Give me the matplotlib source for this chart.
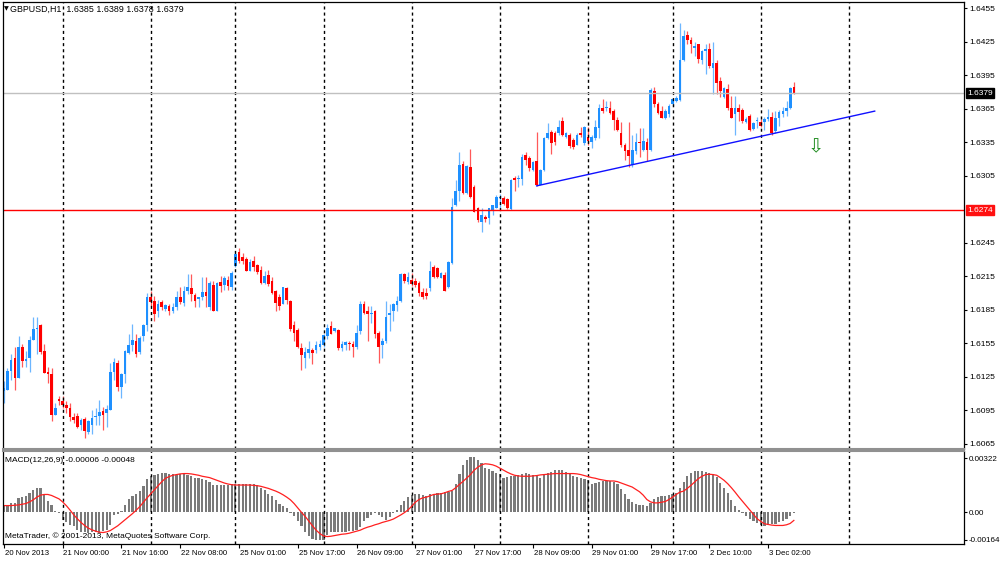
import numpy as np
import matplotlib
matplotlib.use("Agg")
from matplotlib import pyplot as plt
from matplotlib import transforms

plt.rcParams['font.family'] = ['Liberation Sans', 'DejaVu Sans']
plt.rcParams['font.size'] = 6

# GBPUSD H1 candles, 20 Nov 2013 -> 3 Dec 2013 (one entry per bar)
opens = [
    1.6112, 1.6113, 1.6130, 1.6142, 1.6124, 1.6152, 1.6139, 1.6142, 1.6158, 1.6168,
    1.6171, 1.6148, 1.6129, 1.6127, 1.6091, 1.6105, 1.6103, 1.6100, 1.6097, 1.6089,
    1.6090, 1.6082, 1.6087, 1.6075, 1.6082, 1.6089, 1.6090, 1.6094, 1.6092, 1.6095,
    1.6129, 1.6137, 1.6116, 1.6127, 1.6146, 1.6153, 1.6157, 1.6147, 1.6161, 1.6171,
    1.6196, 1.6193, 1.6184, 1.6192, 1.6186, 1.6188, 1.6184, 1.6187, 1.6196, 1.6191,
    1.6202, 1.6204, 1.6198, 1.6195, 1.6196, 1.6201, 1.6187, 1.6207, 1.6184, 1.6210,
    1.6207, 1.6212, 1.6205, 1.6224, 1.6237, 1.6232, 1.6230, 1.6220, 1.6229, 1.6225,
    1.6221, 1.6209, 1.6216, 1.6211, 1.6202, 1.6196, 1.6190, 1.6204, 1.6193, 1.6171,
    1.6167, 1.6151, 1.6142, 1.6146, 1.6149, 1.6149, 1.6152, 1.6153, 1.6161, 1.6170,
    1.6166, 1.6167, 1.6151, 1.6153, 1.6155, 1.6154, 1.6152, 1.6166, 1.6190, 1.6184,
    1.6181, 1.6184, 1.6164, 1.6153, 1.6157, 1.6180, 1.6184, 1.6189, 1.6193, 1.6217,
    1.6210, 1.6212, 1.6211, 1.6209, 1.6201, 1.6200, 1.6204, 1.6223, 1.6222, 1.6213,
    1.6216, 1.6205, 1.6227, 1.6279, 1.6291, 1.6316, 1.6290, 1.6313, 1.6295, 1.6276,
    1.6264, 1.6268, 1.6267, 1.6274, 1.6276, 1.6285, 1.6285, 1.6284, 1.6275, 1.6303,
    1.6302, 1.6302, 1.6324, 1.6321, 1.6310, 1.6318, 1.6297, 1.6310, 1.6339, 1.6344,
    1.6343, 1.6343, 1.6354, 1.6340, 1.6342, 1.6337, 1.6333, 1.6343, 1.6334, 1.6340,
    1.6335, 1.6339, 1.6348, 1.6366, 1.6366, 1.6366, 1.6363, 1.6355, 1.6343, 1.6333,
    1.6328, 1.6315, 1.6327, 1.6335, 1.6328, 1.6335, 1.6328, 1.6381, 1.6369, 1.6363,
    1.6357, 1.6360, 1.6369, 1.6372, 1.6373, 1.6409, 1.6431, 1.6427, 1.6420, 1.6423,
    1.6409, 1.6417, 1.6419, 1.6402, 1.6406, 1.6390, 1.6376, 1.6383, 1.6366, 1.6360,
    1.6366, 1.6364, 1.6353, 1.6359, 1.6347, 1.6354, 1.6353, 1.6353, 1.6356, 1.6358,
    1.6345, 1.6357, 1.6360, 1.6363, 1.6366, 1.6385,
]
highs = [
    1.6121, 1.6133, 1.6145, 1.6152, 1.6161, 1.6154, 1.6148, 1.6161, 1.6178, 1.6178,
    1.6172, 1.6154, 1.6134, 1.6133, 1.6101, 1.6108, 1.6108, 1.6103, 1.6101, 1.6092,
    1.6092, 1.6088, 1.6089, 1.6086, 1.6095, 1.6097, 1.6104, 1.6098, 1.6100, 1.6137,
    1.6142, 1.6140, 1.6128, 1.6149, 1.6163, 1.6172, 1.6163, 1.6161, 1.6172, 1.6200,
    1.6202, 1.6197, 1.6194, 1.6194, 1.6190, 1.6190, 1.6191, 1.6202, 1.6205, 1.6206,
    1.6217, 1.6217, 1.6200, 1.6196, 1.6214, 1.6214, 1.6211, 1.6211, 1.6210, 1.6215,
    1.6215, 1.6215, 1.6220, 1.6235, 1.6240, 1.6236, 1.6232, 1.6230, 1.6233, 1.6226,
    1.6224, 1.6220, 1.6221, 1.6214, 1.6203, 1.6199, 1.6205, 1.6205, 1.6194, 1.6175,
    1.6169, 1.6155, 1.6152, 1.6157, 1.6151, 1.6157, 1.6158, 1.6163, 1.6172, 1.6175,
    1.6169, 1.6168, 1.6157, 1.6157, 1.6157, 1.6157, 1.6171, 1.6193, 1.6193, 1.6188,
    1.6188, 1.6185, 1.6166, 1.6160, 1.6193, 1.6190, 1.6191, 1.6197, 1.6218, 1.6218,
    1.6219, 1.6218, 1.6213, 1.6211, 1.6204, 1.6204, 1.6229, 1.6225, 1.6223, 1.6219,
    1.6219, 1.6229, 1.6285, 1.6301, 1.6326, 1.6318, 1.6315, 1.6329, 1.6297, 1.6277,
    1.6276, 1.6270, 1.6276, 1.6279, 1.6288, 1.6289, 1.6287, 1.6285, 1.6302, 1.6305,
    1.6306, 1.6325, 1.6326, 1.6323, 1.6318, 1.6344, 1.6311, 1.6340, 1.6352, 1.6346,
    1.6345, 1.6355, 1.6358, 1.6344, 1.6343, 1.6339, 1.6343, 1.6349, 1.6350, 1.6349,
    1.6342, 1.6355, 1.6369, 1.6374, 1.6372, 1.6372, 1.6365, 1.6358, 1.6353, 1.6334,
    1.6353, 1.6342, 1.6343, 1.6348, 1.6348, 1.6339, 1.6384, 1.6385, 1.6371, 1.6368,
    1.6365, 1.6369, 1.6375, 1.6377, 1.6442, 1.6436, 1.6435, 1.6429, 1.6425, 1.6423,
    1.6418, 1.6423, 1.6424, 1.6425, 1.6409, 1.6394, 1.6385, 1.6387, 1.6377, 1.6377,
    1.6369, 1.6366, 1.6358, 1.6360, 1.6353, 1.6358, 1.6356, 1.6358, 1.6365, 1.6362,
    1.6363, 1.6364, 1.6367, 1.6372, 1.6385, 1.6389,
]
lows = [
    1.6101, 1.6113, 1.6122, 1.6113, 1.6124, 1.6134, 1.6134, 1.6129, 1.6158, 1.6145,
    1.6145, 1.6128, 1.6119, 1.6085, 1.6091, 1.6100, 1.6097, 1.6092, 1.6085, 1.6083,
    1.6079, 1.6077, 1.6070, 1.6074, 1.6074, 1.6082, 1.6082, 1.6077, 1.6080, 1.6095,
    1.6122, 1.6112, 1.6106, 1.6119, 1.6145, 1.6148, 1.6143, 1.6145, 1.6157, 1.6166,
    1.6188, 1.6175, 1.6178, 1.6185, 1.6184, 1.6180, 1.6182, 1.6185, 1.6190, 1.6188,
    1.6199, 1.6193, 1.6187, 1.6187, 1.6194, 1.6187, 1.6185, 1.6184, 1.6184, 1.6201,
    1.6203, 1.6203, 1.6203, 1.6223, 1.6227, 1.6226, 1.6220, 1.6220, 1.6220, 1.6217,
    1.6208, 1.6208, 1.6206, 1.6199, 1.6184, 1.6185, 1.6190, 1.6190, 1.6166, 1.6157,
    1.6151, 1.6131, 1.6133, 1.6142, 1.6136, 1.6146, 1.6149, 1.6152, 1.6159, 1.6163,
    1.6165, 1.6149, 1.6148, 1.6149, 1.6149, 1.6143, 1.6150, 1.6163, 1.6181, 1.6157,
    1.6173, 1.6160, 1.6137, 1.6142, 1.6155, 1.6166, 1.6175, 1.6184, 1.6192, 1.6209,
    1.6208, 1.6206, 1.6205, 1.6197, 1.6195, 1.6195, 1.6202, 1.6213, 1.6213, 1.6213,
    1.6202, 1.6204, 1.6226, 1.6278, 1.6282, 1.6289, 1.6289, 1.6285, 1.6273, 1.6264,
    1.6255, 1.6264, 1.6262, 1.6270, 1.6276, 1.6274, 1.6279, 1.6275, 1.6274, 1.6291,
    1.6295, 1.6297, 1.6315, 1.6309, 1.6309, 1.6296, 1.6297, 1.6309, 1.6338, 1.6325,
    1.6333, 1.6342, 1.6341, 1.6339, 1.6330, 1.6329, 1.6333, 1.6340, 1.6333, 1.6333,
    1.6330, 1.6337, 1.6339, 1.6361, 1.6363, 1.6360, 1.6346, 1.6345, 1.6331, 1.6319,
    1.6313, 1.6313, 1.6325, 1.6322, 1.6327, 1.6318, 1.6327, 1.6367, 1.6360, 1.6357,
    1.6356, 1.6358, 1.6368, 1.6371, 1.6372, 1.6408, 1.6423, 1.6415, 1.6412, 1.6406,
    1.6405, 1.6396, 1.6402, 1.6378, 1.6378, 1.6376, 1.6375, 1.6364, 1.6357, 1.6342,
    1.6354, 1.6352, 1.6352, 1.6345, 1.6346, 1.6348, 1.6349, 1.6346, 1.6354, 1.6342,
    1.6343, 1.6350, 1.6358, 1.6359, 1.6365, 1.6378,
]
closes = [
    1.6115, 1.6130, 1.6140, 1.6124, 1.6152, 1.6139, 1.6141, 1.6158, 1.6168, 1.6169,
    1.6147, 1.6128, 1.6127, 1.6091, 1.6097, 1.6103, 1.6100, 1.6097, 1.6089, 1.6086,
    1.6080, 1.6086, 1.6076, 1.6085, 1.6088, 1.6090, 1.6093, 1.6091, 1.6096, 1.6129,
    1.6138, 1.6116, 1.6127, 1.6148, 1.6153, 1.6158, 1.6145, 1.6160, 1.6171, 1.6196,
    1.6192, 1.6181, 1.6190, 1.6187, 1.6189, 1.6184, 1.6187, 1.6196, 1.6192, 1.6202,
    1.6205, 1.6199, 1.6193, 1.6196, 1.6201, 1.6197, 1.6209, 1.6184, 1.6209, 1.6206,
    1.6213, 1.6206, 1.6218, 1.6235, 1.6229, 1.6229, 1.6220, 1.6228, 1.6223, 1.6219,
    1.6209, 1.6215, 1.6208, 1.6200, 1.6191, 1.6188, 1.6205, 1.6194, 1.6168, 1.6164,
    1.6152, 1.6144, 1.6147, 1.6150, 1.6146, 1.6153, 1.6154, 1.6162, 1.6169, 1.6163,
    1.6169, 1.6151, 1.6154, 1.6156, 1.6154, 1.6152, 1.6164, 1.6190, 1.6182, 1.6181,
    1.6182, 1.6163, 1.6152, 1.6157, 1.6178, 1.6182, 1.6190, 1.6193, 1.6217, 1.6211,
    1.6214, 1.6208, 1.6207, 1.6200, 1.6196, 1.6197, 1.6220, 1.6214, 1.6214, 1.6218,
    1.6202, 1.6228, 1.6277, 1.6291, 1.6315, 1.6290, 1.6314, 1.6286, 1.6273, 1.6265,
    1.6270, 1.6266, 1.6276, 1.6279, 1.6286, 1.6286, 1.6280, 1.6276, 1.6301, 1.6301,
    1.6303, 1.6322, 1.6319, 1.6312, 1.6317, 1.6297, 1.6310, 1.6339, 1.6343, 1.6334,
    1.6335, 1.6349, 1.6342, 1.6343, 1.6332, 1.6331, 1.6342, 1.6342, 1.6349, 1.6336,
    1.6340, 1.6349, 1.6366, 1.6363, 1.6367, 1.6361, 1.6355, 1.6346, 1.6333, 1.6327,
    1.6323, 1.6328, 1.6335, 1.6334, 1.6336, 1.6328, 1.6382, 1.6369, 1.6361, 1.6357,
    1.6363, 1.6368, 1.6374, 1.6375, 1.6409, 1.6430, 1.6427, 1.6423, 1.6421, 1.6410,
    1.6417, 1.6419, 1.6403, 1.6406, 1.6388, 1.6381, 1.6384, 1.6366, 1.6357, 1.6366,
    1.6362, 1.6354, 1.6356, 1.6346, 1.6352, 1.6355, 1.6350, 1.6356, 1.6358, 1.6343,
    1.6357, 1.6362, 1.6363, 1.6366, 1.6384, 1.6379,
]

# MACD(12,26,9): main line (histogram) and signal line
macd_main = [
    0.00036, 0.00036, 0.00056, 0.00056, 0.00086, 0.00090, 0.00096, 0.00116, 0.00130, 0.00146,
    0.00142, 0.00106, 0.00070, 0.00042, 0.00006, -0.00004, -0.00044, -0.00058, -0.00074, -0.00084,
    -0.00104, -0.00118, -0.00118, -0.00124, -0.00114, -0.00118, -0.00124, -0.00110, -0.00104, -0.00074,
    -0.00018, -0.00010, 0.00006, 0.00042, 0.00082, 0.00096, 0.00106, 0.00126, 0.00156, 0.00200,
    0.00216, 0.00222, 0.00230, 0.00236, 0.00236, 0.00230, 0.00226, 0.00222, 0.00226, 0.00226,
    0.00222, 0.00216, 0.00206, 0.00206, 0.00200, 0.00190, 0.00182, 0.00162, 0.00160, 0.00160,
    0.00160, 0.00160, 0.00166, 0.00170, 0.00170, 0.00170, 0.00170, 0.00166, 0.00166, 0.00160,
    0.00146, 0.00130, 0.00110, 0.00096, 0.00076, 0.00050, 0.00036, 0.00026, -0.00004, -0.00024,
    -0.00054, -0.00084, -0.00118, -0.00138, -0.00158, -0.00164, -0.00164, -0.00164, -0.00134, -0.00118,
    -0.00118, -0.00118, -0.00118, -0.00118, -0.00110, -0.00110, -0.00104, -0.00090, -0.00054, -0.00034,
    -0.00014, -0.00004, -0.00014, -0.00030, -0.00044, -0.00030, -0.00004, 0.00016, 0.00042, 0.00066,
    0.00090, 0.00102, 0.00110, 0.00110, 0.00102, 0.00096, 0.00106, 0.00110, 0.00116, 0.00116,
    0.00122, 0.00122, 0.00126, 0.00170, 0.00226, 0.00282, 0.00310, 0.00330, 0.00330, 0.00310,
    0.00290, 0.00266, 0.00256, 0.00246, 0.00236, 0.00230, 0.00206, 0.00210, 0.00216, 0.00216,
    0.00222, 0.00230, 0.00236, 0.00230, 0.00222, 0.00216, 0.00206, 0.00226, 0.00236, 0.00242,
    0.00250, 0.00252, 0.00252, 0.00242, 0.00230, 0.00216, 0.00210, 0.00202, 0.00196, 0.00190,
    0.00170, 0.00176, 0.00182, 0.00186, 0.00186, 0.00186, 0.00182, 0.00170, 0.00136, 0.00106,
    0.00082, 0.00062, 0.00050, 0.00046, 0.00042, 0.00036, 0.00056, 0.00082, 0.00090, 0.00096,
    0.00096, 0.00102, 0.00106, 0.00116, 0.00146, 0.00182, 0.00216, 0.00236, 0.00246, 0.00246,
    0.00246, 0.00242, 0.00236, 0.00226, 0.00210, 0.00176, 0.00146, 0.00116, 0.00076, 0.00036,
    0.00016, -0.00004, -0.00024, -0.00038, -0.00054, -0.00064, -0.00074, -0.00084, -0.00078, -0.00070,
    -0.00070, -0.00058, -0.00050, -0.00038, -0.00022, -0.00006,
]
macd_signal = [
    0.00040, 0.00040, 0.00040, 0.00042, 0.00044, 0.00048, 0.00052, 0.00062, 0.00074, 0.00090,
    0.00102, 0.00106, 0.00106, 0.00100, 0.00090, 0.00080, 0.00062, 0.00040, 0.00014, -0.00014,
    -0.00038, -0.00060, -0.00078, -0.00094, -0.00104, -0.00112, -0.00118, -0.00120, -0.00116, -0.00108,
    -0.00094, -0.00080, -0.00062, -0.00044, -0.00026, -0.00008, 0.00012, 0.00034, 0.00060, 0.00086,
    0.00110, 0.00134, 0.00158, 0.00182, 0.00202, 0.00212, 0.00220, 0.00224, 0.00228, 0.00230,
    0.00230, 0.00228, 0.00224, 0.00220, 0.00214, 0.00210, 0.00206, 0.00198, 0.00190, 0.00182,
    0.00174, 0.00168, 0.00164, 0.00162, 0.00162, 0.00162, 0.00162, 0.00162, 0.00160, 0.00158,
    0.00154, 0.00148, 0.00142, 0.00134, 0.00126, 0.00116, 0.00104, 0.00090, 0.00074, 0.00052,
    0.00026, 0.00000, -0.00024, -0.00052, -0.00080, -0.00106, -0.00126, -0.00140, -0.00144, -0.00142,
    -0.00138, -0.00134, -0.00130, -0.00128, -0.00124, -0.00118, -0.00112, -0.00106, -0.00096, -0.00088,
    -0.00082, -0.00074, -0.00068, -0.00060, -0.00054, -0.00048, -0.00040, -0.00028, -0.00016, -0.00002,
    0.00014, 0.00036, 0.00060, 0.00076, 0.00086, 0.00090, 0.00098, 0.00106, 0.00108, 0.00110,
    0.00116, 0.00124, 0.00130, 0.00146, 0.00166, 0.00184, 0.00204, 0.00224, 0.00250, 0.00268,
    0.00282, 0.00288, 0.00286, 0.00282, 0.00274, 0.00262, 0.00250, 0.00238, 0.00228, 0.00220,
    0.00216, 0.00214, 0.00214, 0.00214, 0.00216, 0.00218, 0.00222, 0.00224, 0.00226, 0.00228,
    0.00230, 0.00230, 0.00230, 0.00230, 0.00230, 0.00230, 0.00228, 0.00224, 0.00218, 0.00212,
    0.00206, 0.00202, 0.00196, 0.00192, 0.00188, 0.00186, 0.00186, 0.00182, 0.00174, 0.00166,
    0.00158, 0.00150, 0.00136, 0.00122, 0.00102, 0.00076, 0.00062, 0.00056, 0.00056, 0.00060,
    0.00064, 0.00076, 0.00090, 0.00106, 0.00120, 0.00126, 0.00142, 0.00160, 0.00180, 0.00200,
    0.00214, 0.00224, 0.00226, 0.00224, 0.00220, 0.00206, 0.00190, 0.00170, 0.00146, 0.00120,
    0.00092, 0.00066, 0.00040, 0.00014, -0.00012, -0.00038, -0.00054, -0.00068, -0.00072, -0.00076,
    -0.00078, -0.00078, -0.00078, -0.00074, -0.00066, -0.00048,
]

# time axis: bar index of each label, daily separators
time_label_bars = [0, 16, 32, 48, 64, 80, 96, 112, 128, 144, 160, 176, 192, 208]
time_labels = ['20 Nov 2013', '21 Nov 00:00', '21 Nov 16:00', '22 Nov 08:00', '25 Nov 01:00',
               '25 Nov 17:00', '26 Nov 09:00', '27 Nov 01:00', '27 Nov 17:00', '28 Nov 09:00',
               '29 Nov 01:00', '29 Nov 17:00', '2 Dec 10:00', '3 Dec 02:00']
day_separators = [16, 40, 63, 87, 111, 135, 159, 182, 206, 230]

price_ticks = [1.6065, 1.6095, 1.6125, 1.6155, 1.6185, 1.6215, 1.6245,
               1.6305, 1.6335, 1.6365, 1.6395, 1.6425, 1.6455]
macd_ticks = [-0.00164, 0.0, 0.00322]

level_line = 1.6274
trend_start = (145, 1.6296)
trend_end = (237, 1.6363)
sell_arrow = (221, 1.6331)

bull = '#1E90FF'
bear = '#FF0000'
sep_style = (0, (2.2, 2.2))

n = len(closes)
idx = np.arange(n)
o = np.array(opens)
h = np.array(highs)
l = np.array(lows)
c = np.array(closes)
up = c >= o
cols = np.where(up, bull, bear)
body_lo = np.minimum(o, c)
body_h = np.maximum(np.abs(c - o), 0.00002)

fig = plt.figure(figsize=(10, 5.61), dpi=100)
ax = fig.add_axes([0.003, 0.1996, 0.961, 0.7968])
axm = fig.add_axes([0.003, 0.0303, 0.961, 0.1658])

xmin, xmax = -0.22, 261.3

# price panel
ax.vlines(idx, l, h, colors=cols, lw=0.9, alpha=0.65)
ax.bar(idx, body_h, bottom=body_lo, width=0.72, color=cols, linewidth=0)

for d in day_separators:
    ax.axvline(d, color='black', lw=1.0, ls=sep_style)
    axm.axvline(d, color='black', lw=1.0, ls=sep_style)

ax.axhline(closes[-1], color='#C0C0C0', lw=1)
ax.axhline(level_line, color='red', lw=1)
ax.plot([trend_start[0], trend_end[0]], [trend_start[1], trend_end[1]], color='#1010FF', lw=1)
ax.text(sell_arrow[0], sell_arrow[1], '\u21e9', color='#1E8C1E', fontsize=14,
        ha='center', va='center', family='DejaVu Sans')

ax.set_xlim(xmin, xmax)
ax.set_ylim(1.60601, 1.64608)
ax.set_xticks([])
ax.yaxis.tick_right()
ax.set_yticks(price_ticks)
ax.set_yticklabels(['%.4f' % v for v in price_ticks])
ax.tick_params(axis='y', length=2.5, width=0.8, pad=1.5, labelsize=6)
for s in ax.spines.values():
    s.set_linewidth(0.9)
ax.spines['bottom'].set_color('#909090')
ax.spines['bottom'].set_linewidth(1.5)

yt = transforms.blended_transform_factory(ax.transAxes, ax.transData)
ax.text(1.0035, closes[-1], '%.4f' % closes[-1], transform=yt, color='white', fontsize=6,
        va='center', ha='left', bbox=dict(boxstyle='square,pad=0.18', fc='black', ec='black'))
ax.text(1.0035, level_line, '%.4f' % level_line, transform=yt, color='white', fontsize=6,
        va='center', ha='left', bbox=dict(boxstyle='square,pad=0.18', fc='#FF1010', ec='#FF1010'))

# MACD panel
axm.bar(idx, macd_main, width=0.6, color='#7A7A7A', linewidth=0)
axm.plot(idx, macd_signal, color='#FF2020', lw=0.9)
axm.set_xlim(xmin, xmax)
axm.set_ylim(-0.00188, 0.00364)
axm.yaxis.tick_right()
axm.set_yticks(macd_ticks)
axm.set_yticklabels(['-0.00164', '0.00', '0.00322'])
axm.tick_params(axis='y', length=2.5, width=0.8, pad=1.0, labelsize=5.8)
axm.set_xticks(time_label_bars)
axm.set_xticklabels([])
axm.tick_params(axis='x', length=3, width=0.8)
for s in axm.spines.values():
    s.set_linewidth(0.9)
axm.spines['top'].set_color('#909090')
axm.spines['top'].set_linewidth(1.5)

xt = transforms.blended_transform_factory(axm.transData, axm.transAxes)
for b, txt in zip(time_label_bars, time_labels):
    axm.text(b + 0.2, -0.06, txt, transform=xt, ha='left', va='top', fontsize=5.6)

axm.text(0.002, 0.93, 'MACD(12,26,9) %.5f %.5f' % (macd_main[-1], macd_signal[-1]),
         transform=axm.transAxes, ha='left', va='top', fontsize=6)
axm.text(0.002, 0.04, 'MetaTrader, \u00a9 2001-2013, MetaQuotes Software Corp.',
         transform=axm.transAxes, ha='left', va='bottom', fontsize=6)

fig.text(0.0065, 0.984, '\u25bc', fontsize=4.5, ha='center', va='center', family='DejaVu Sans')
fig.text(0.0105, 0.984, 'GBPUSD,H1  %.4f %.4f %.4f %.4f' % (opens[-1], highs[-1], lows[-1], closes[-1]),
         ha='left', va='center', fontsize=6.4)

fig.savefig('out.png', dpi=100)
